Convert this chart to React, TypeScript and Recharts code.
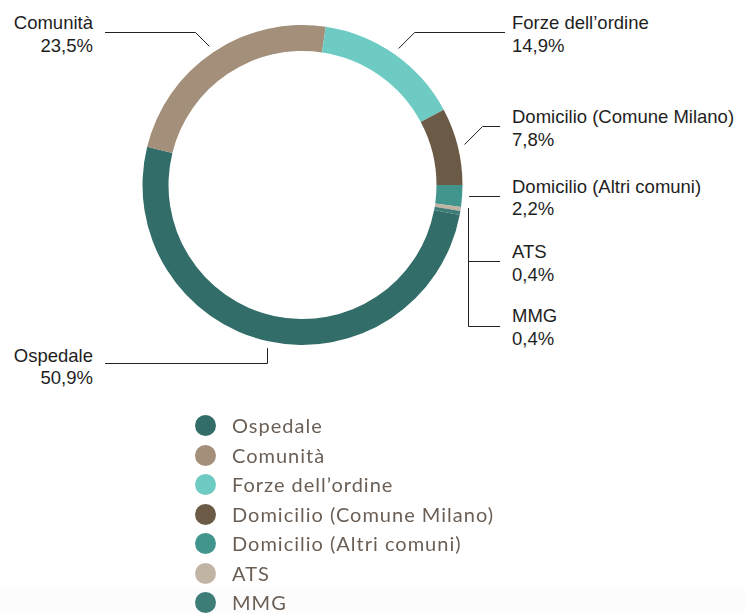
import React from 'react';
import { PieChart, Pie, Cell } from 'recharts';

const categories = [
  'Ospedale',
  'Comunità',
  'Forze dell’ordine',
  'Domicilio (Comune Milano)',
  'Domicilio (Altri comuni)',
  'ATS',
  'MMG',
];
const shares = [50.9, 23.5, 14.9, 7.8, 2.2, 0.4, 0.4];
const shareLabels = ['50,9%', '23,5%', '14,9%', '7,8%', '2,2%', '0,4%', '0,4%'];
const colors = ['#336d69', '#a38f7a', '#6ecbc4', '#6b5a45', '#41958d', '#c2b4a4', '#3e7c78'];

const data = categories.map((name, i) => ({ name, value: shares[i], label: shareLabels[i] }));

// the three smallest slices sit just below 3 o'clock, Ospedale starts after them
const total = shares.reduce((a, b) => a + b, 0);
const startAngle = -((shares[4] + shares[5] + shares[6]) / total) * 360;

const RADIAN = Math.PI / 180;
const crisp = (v: number) => Math.round(v) + 0.5;

// where each callout goes: text position and the shape of the leader line
const labelLayout: Record<string, { tx: number; ty: number; anchor: 'start' | 'end'; kind: string; ey: number; ex: number }> = {
  'Ospedale': { tx: 93, ty: 361.5, anchor: 'end', kind: 'down', ey: 363.5, ex: 105 },
  'Comunità': { tx: 93, ty: 29, anchor: 'end', kind: 'diag', ey: 32.5, ex: 105 },
  'Forze dell’ordine': { tx: 512, ty: 29, anchor: 'start', kind: 'diag', ey: 32.5, ex: 505 },
  'Domicilio (Comune Milano)': { tx: 512, ty: 123, anchor: 'start', kind: 'diag', ey: 126.5, ex: 500 },
  'Domicilio (Altri comuni)': { tx: 512, ty: 192.5, anchor: 'start', kind: 'flat', ey: 196.5, ex: 500 },
  'ATS': { tx: 512, ty: 258, anchor: 'start', kind: 'bracket', ey: 261.5, ex: 500 },
  'MMG': { tx: 512, ty: 322, anchor: 'start', kind: 'bracket', ey: 326.5, ex: 500 },
};

const renderLabel = (props: any) => {
  const { cx, cy, midAngle, outerRadius, index } = props;
  const d = data[index];
  const l = labelLayout[d.name];
  if (!l) return null;
  const r = outerRadius + 7;
  const ax = cx + r * Math.cos(-midAngle * RADIAN);
  const ay = cy + r * Math.sin(-midAngle * RADIAN);
  let path = '';
  if (l.kind === 'diag') {
    const dy = Math.abs(ay - l.ey);
    const bx = l.ex > ax ? ax + dy : ax - dy;
    path = `M${ax},${ay}L${bx},${l.ey}L${l.ex},${l.ey}`;
  } else if (l.kind === 'down') {
    path = `M${crisp(ax)},${ay}L${crisp(ax)},${l.ey}L${l.ex},${l.ey}`;
  } else if (l.kind === 'flat') {
    path = `M${ax},${l.ey}L${l.ex},${l.ey}`;
  } else {
    path = `M468.5,${ay - 2}L468.5,${l.ey}L${l.ex},${l.ey}`;
  }
  return (
    <g key={`lbl-${index}`}>
      <path d={path} stroke="#222" strokeWidth={1} fill="none" />
      <text
        x={l.tx}
        y={l.ty}
        textAnchor={l.anchor}
        fill="#1e1e1e"
        fontSize={18.5}
        fontFamily="'Liberation Sans', Arial, sans-serif"
      >
        <tspan x={l.tx} y={l.ty}>{d.name}</tspan>
        <tspan x={l.tx} y={l.ty + 22.5}>{d.label}</tspan>
      </text>
    </g>
  );
};

const LegendBlock = () => (
  <div style={{ position: 'absolute', left: 195, top: 411, width: 360, fontFamily: 'Lato, sans-serif' }}>
    {categories.map((name, i) => (
      <div key={name} style={{ display: 'flex', alignItems: 'center', height: 29.5 }}>
        <span
          style={{
            display: 'inline-block',
            width: 21,
            height: 21,
            borderRadius: '50%',
            background: colors[i],
            marginRight: 16,
          }}
        />
        <span style={{ fontSize: 20, letterSpacing: 1, color: '#6b5f55', lineHeight: '29.5px' }}>{name}</span>
      </div>
    ))}
  </div>
);

export default function App() {
  return (
    <div style={{ position: 'fixed', left: 0, top: 0, width: 745, height: 613, background: '#fff' }}>
      <div style={{ position: 'absolute', left: 0, top: 588, width: 745, height: 25, background: '#fcfcfc' }} />
      <div style={{ position: 'absolute', left: 0, top: 0 }}>
        <PieChart width={745} height={400} margin={{ top: 0, right: 0, bottom: 0, left: 0 }}>
          <Pie
            data={data}
            dataKey="value"
            nameKey="name"
            cx={302.5}
            cy={185}
            innerRadius={134}
            outerRadius={160}
            startAngle={startAngle}
            endAngle={startAngle - 360}
            stroke="none"
            strokeWidth={0}
            label={renderLabel}
            labelLine={false}
            isAnimationActive={false}
          >
            {data.map((d, i) => (
              <Cell key={d.name} fill={colors[i]} />
            ))}
          </Pie>
        </PieChart>
      </div>
      <LegendBlock />
    </div>
  );
}
